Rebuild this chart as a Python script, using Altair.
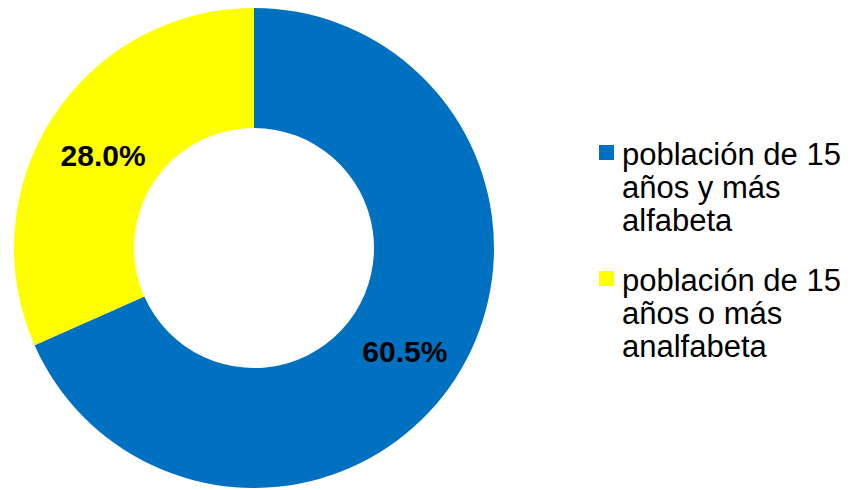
import altair as alt
import pandas as pd

categories = ["población de 15\naños y más\nalfabeta", "población de 15\naños o más\nanalfabeta"]
values = [60.5, 28.0]
labels = ["60.5%", "28.0%"]
order = [1, 2]
colors = ["#0070C0", "#FFFF00"]

df = pd.DataFrame({"cat": categories, "value": values, "label": labels, "ord": order})

base = alt.Chart(df).encode(
    theta=alt.Theta("value:Q", stack=True),
    order=alt.Order("ord:Q"),
)

# square symbol raised so that it sits beside the first text line
square_up = "M-1,-2.6H1V-0.6H-1Z"

arcs = base.mark_arc(outerRadius=240, innerRadius=120).encode(
    color=alt.Color(
        "cat:N",
        scale=alt.Scale(domain=categories, range=colors),
        sort=categories,
        legend=alt.Legend(
            title=None,
            orient="none",
            legendX=583,
            legendY=141,
            padding=0,
            symbolType=square_up,
            symbolSize=225,
            symbolStrokeWidth=0,
            labelFont="Liberation Sans",
            labelFontSize=31,
            labelColor="#000000",
            labelLimit=0,
            labelOffset=0,
            labelBaseline="alphabetic",
            rowPadding=28,
            labelExpr="split(datum.label, '\\n')",
        ),
    )
)

text = base.mark_text(
    radius=180,
    dy=7,
    font="Liberation Sans",
    fontSize=30,
    fontWeight="bold",
    color="#000000",
).encode(text="label:N")

chart = (arcs + text).properties(
    width=492, height=480, padding=0
).configure_view(stroke=None)

chart.save("out.html", embed_options={"renderer": "svg", "actions": False})
